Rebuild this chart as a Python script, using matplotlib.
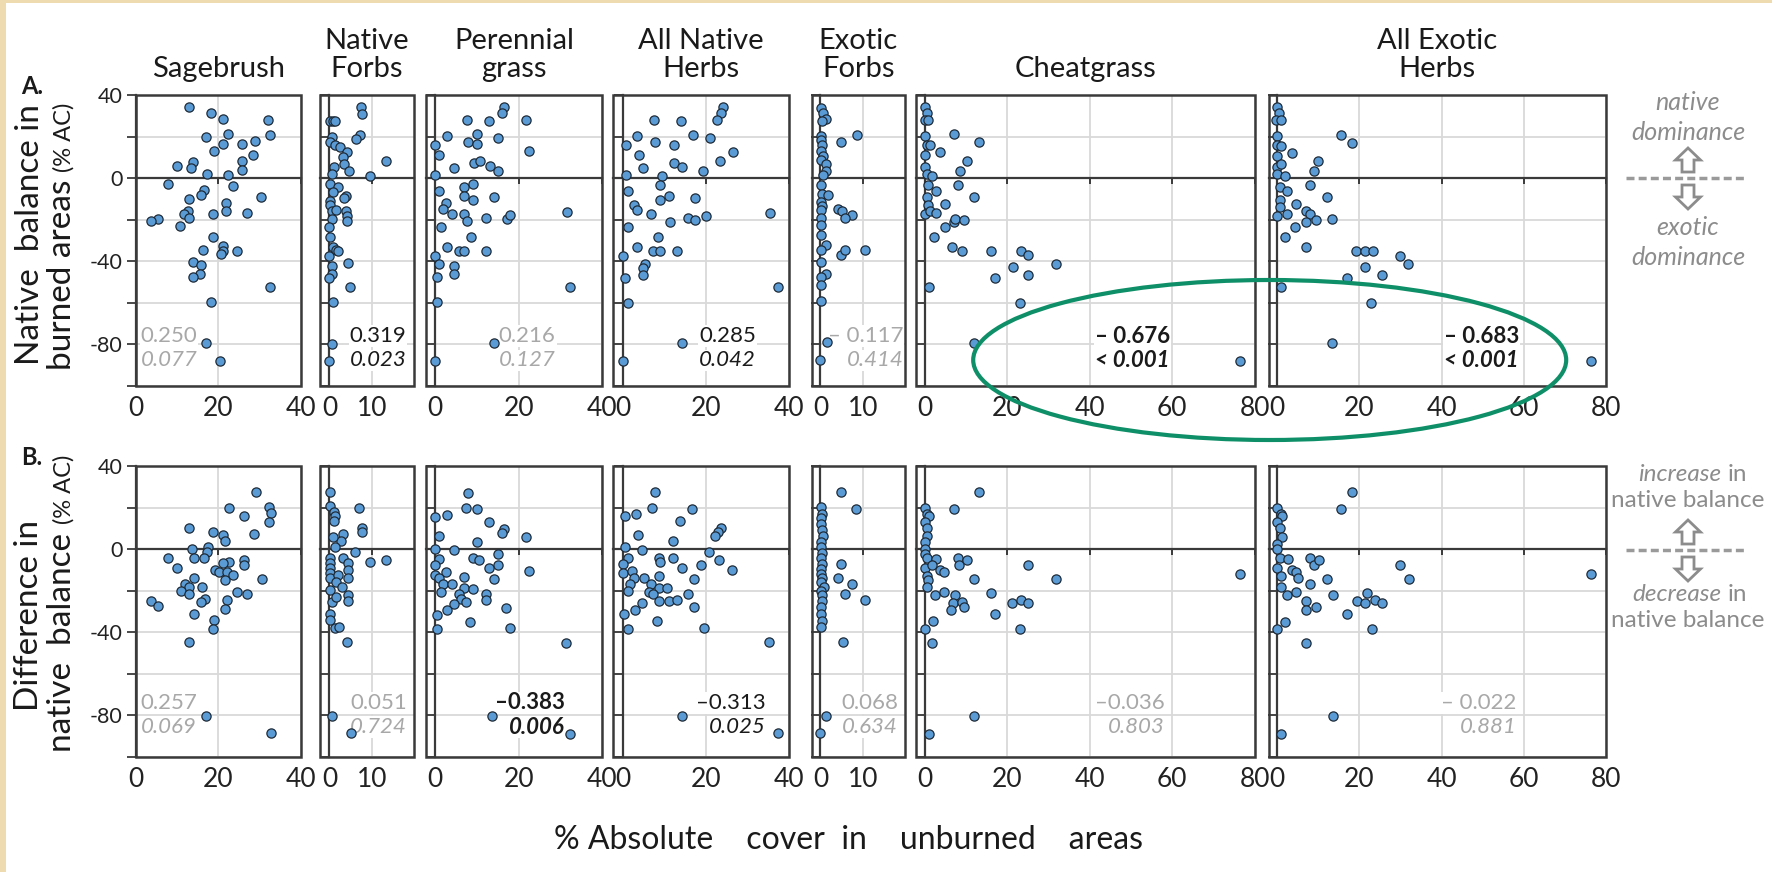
import matplotlib
matplotlib.use('Agg')
import matplotlib.pyplot as plt
from matplotlib.patches import Ellipse, Rectangle, Polygon

plt.rcParams['font.family'] = ['Lato', 'DejaVu Sans']

W, H = 1772, 872

# ---- native balance in burned areas (row A) ----
sage_burn_x = [12.9, 18.3, 21.0, 31.9, 32.4, 17.0, 22.4, 21.1, 19.0, 25.8, 28.8, 28.3, 25.8, 25.8, 9.9, 13.8, 13.3, 17.3, 22.4, 7.8, 23.4, 16.4, 15.9, 30.2, 12.9, 21.8, 21.8, 26.9, 18.8, 12.7, 11.6, 12.9, 10.7, 5.4, 3.6, 18.8, 21.1, 21.1, 20.7, 24.5, 16.2, 13.8, 15.9, 15.5, 13.8, 18.3, 32.4, 16.9, 20.4]
sage_burn_y = [34.0, 31.1, 28.4, 28.2, 20.6, 19.8, 21.0, 16.6, 13.1, 16.3, 17.7, 11.0, 8.2, 3.7, 5.8, 7.6, 5.0, 2.1, 1.3, -2.7, -3.9, -5.5, -7.9, -8.9, -10.0, -11.9, -15.6, -16.8, -17.3, -16.0, -17.3, -19.2, -22.9, -19.7, -20.8, -28.1, -32.6, -35.0, -36.6, -35.0, -34.7, -40.3, -41.9, -46.3, -47.6, -59.7, -52.3, -79.4, -88.2]

nforb_burn_x = [7.5, 7.7, 0.2, 0.9, 1.3, 0.5, 0.2, 7.2, 6.3, 13.3, 9.5, 1.4, 2.5, 4.2, 3.3, 3.5, 4.7, 1.1, 0.7, 0.2, 2.1, 0.9, 3.9, 3.5, 0.2, 0.2, 0.5, 1.6, 3.9, 4.2, 4.2, 0.7, 0.0, 0.2, 0.9, 1.6, 2.1, 0.0, 4.4, 0.7, 0.5, 0.0, 4.9, 0.9, 0.7, 0.0]
nforb_burn_y = [34.0, 30.8, 27.6, 27.6, 27.3, 19.8, 17.4, 20.6, 19.0, 8.1, 0.8, 15.8, 15.0, 12.6, 10.2, 6.9, 3.4, 5.3, 2.1, -2.7, -4.4, -6.8, -8.4, -9.5, -10.8, -12.7, -15.6, -15.3, -16.0, -18.0, -20.8, -19.7, -23.7, -28.5, -33.0, -34.7, -35.0, -37.4, -41.0, -42.3, -46.3, -47.9, -52.4, -59.7, -79.7, -88.2]

pgrass_burn_x = [16.4, 15.9, 7.5, 13.0, 21.8, 2.9, 10.1, 15.1, 7.8, 10.1, 0.0, 0.9, 22.6, 9.4, 10.7, 4.6, 13.2, 15.1, 0.0, 0.9, 9.0, 6.9, 6.9, 9.0, 14.0, 2.5, 1.8, 4.0, 6.9, 7.5, 12.1, 17.3, 18.0, 1.3, 8.5, 2.9, 5.6, 7.0, 12.1, 0.0, 0.9, 4.6, 4.6, 0.5, 0.5, 31.6, 32.3, 14.0, 0.0]
pgrass_burn_y = [34.0, 31.1, 28.2, 27.6, 27.9, 20.2, 21.0, 19.5, 17.4, 16.6, 15.8, 11.0, 12.9, 7.4, 8.2, 5.0, 5.8, 3.4, 1.3, -6.0, -2.7, -4.4, -8.4, -10.5, -8.9, -12.1, -14.8, -17.3, -17.3, -20.8, -19.4, -19.7, -17.6, -23.4, -28.2, -33.1, -35.0, -35.0, -35.0, -37.4, -41.1, -42.3, -46.3, -47.6, -59.7, -16.5, -52.4, -79.4, -88.2]

nherb_burn_x = [24.1, 23.6, 22.7, 7.6, 14.0, 3.5, 17.0, 21.0, 7.9, 12.4, 0.9, 26.5, 3.9, 12.4, 14.4, 23.5, 5.0, 19.5, 9.5, 0.9, 9.0, 1.4, 11.1, 9.0, 17.4, 2.7, 3.5, 6.8, 15.8, 17.4, 20.1, 11.4, 1.4, 8.5, 3.5, 7.4, 9.0, 13.0, 0.0, 5.5, 4.9, 4.9, 0.5, 1.4, 35.5, 37.4, 14.4, 0.0]
nherb_burn_y = [34.0, 31.1, 28.2, 27.9, 27.3, 20.2, 20.6, 19.4, 17.4, 16.1, 15.8, 12.6, 11.0, 7.3, 5.6, 8.1, 4.8, 3.2, 1.0, 1.6, -3.2, -6.0, -8.4, -10.5, -9.5, -12.7, -15.3, -17.3, -19.4, -20.0, -18.1, -21.0, -23.4, -28.5, -33.1, -35.0, -35.0, -35.0, -37.4, -41.1, -43.1, -46.6, -47.9, -60.0, -16.6, -52.4, -79.4, -88.2]

xforb_burn_x = [0.2, 0.5, 1.4, 0.3, 0.2, 0.2, 0.3, 0.2, 0.5, 0.2, 1.4, 1.4, 0.5, 0.2, 0.3, 1.8, 0.2, 0.3, 0.2, 0.2, 0.2, 0.2, 1.4, 0.2, 0.2, 1.4, 0.2, 0.2, 0.2, 1.6, 0.0, 4.9, 8.7, 4.1, 5.1, 7.5, 5.9, 4.9, 5.9, 10.5]
xforb_burn_y = [33.9, 31.2, 28.3, 27.5, 20.4, 18.3, 15.9, 13.0, 10.8, 8.7, 6.6, 3.4, 1.5, -3.4, -7.4, -8.2, -11.4, -13.5, -15.4, -19.4, -22.6, -27.4, -32.3, -34.7, -40.3, -45.9, -47.5, -51.6, -59.3, -78.9, -87.4, 17.5, 20.9, -14.8, -16.0, -17.6, -19.4, -37.1, -34.7, -34.7]

cheat_burn_x = [0.0, 0.4, 0.0, 0.8, 0.0, 0.4, 1.2, 0.0, 0.0, 0.4, 1.7, 0.8, 2.7, 0.4, 0.8, 0.0, 1.2, 2.7, 4.8, 2.2, 1.0, 7.1, 13.0, 3.6, 10.1, 8.6, 8.1, 12.0, 4.8, 7.0, 7.4, 9.5, 6.5, 9.0, 16.0, 23.4, 24.9, 31.7, 21.4, 24.9, 17.0, 23.0, 12.0, 76.3]
cheat_burn_y = [34.0, 31.1, 28.2, 27.9, 20.2, 16.0, 15.8, 11.0, 5.6, 2.0, 1.0, -3.5, -6.0, -9.0, -12.7, -17.3, -16.0, -16.8, -12.4, -28.5, -52.4, 21.0, 17.4, 12.6, 8.1, 3.4, -3.2, -9.2, -23.4, -21.0, -19.7, -20.0, -33.1, -35.0, -35.0, -35.0, -37.1, -41.1, -42.6, -46.6, -47.9, -60.0, -79.4, -88.2]

xherb_burn_x = [0.0, 0.4, -0.2, 0.8, 0.0, 0.0, 0.8, 0.0, 0.0, 0.8, 0.0, 2.0, 0.6, 2.5, 0.6, 0.6, 0.0, 2.5, 2.0, 1.0, 15.5, 18.1, 3.7, 9.9, 8.9, 8.0, 12.0, 4.6, 7.0, 8.0, 7.0, 9.4, 4.4, 13.3, 7.0, 19.2, 21.4, 23.4, 29.8, 31.8, 21.4, 25.5, 16.9, 22.9, 13.3, 76.3]
xherb_burn_y = [34.0, 31.1, 28.2, 28.2, 20.2, 15.8, 15.5, 10.6, 5.3, 6.6, 2.1, 0.8, -4.4, -6.0, -10.5, -14.0, -18.0, -17.3, -28.5, -52.4, 20.6, 17.1, 12.3, 8.1, 3.2, -3.2, -9.2, -12.4, -16.0, -17.3, -21.0, -20.0, -23.4, -19.7, -33.1, -35.0, -35.0, -35.0, -37.4, -41.1, -42.6, -46.6, -47.9, -60.0, -79.4, -88.2]

# ---- difference in native balance (row B) ----
sage_diff_x = [29.0, 32.1, 32.6, 32.1, 22.6, 26.1, 13.0, 18.8, 21.1, 21.6, 28.6, 13.5, 17.5, 17.3, 16.4, 14.0, 7.8, 10.0, 22.6, 26.1, 26.1, 21.1, 19.2, 20.1, 22.1, 23.5, 21.6, 14.0, 11.9, 13.0, 11.0, 13.0, 16.1, 24.5, 27.0, 30.5, 16.7, 15.7, 22.1, 21.5, 14.0, 19.0, 18.8, 3.8, 5.4, 13.0, 17.0, 32.6]
sage_diff_y = [27.3, 20.4, 17.2, 13.2, 19.6, 16.1, 10.3, 8.4, 6.8, 3.9, 7.1, 0.0, 1.1, -1.3, -4.5, -4.5, -4.2, -9.0, -6.1, -5.0, -7.4, -6.9, -9.8, -10.9, -10.9, -12.5, -15.0, -14.1, -16.6, -18.2, -20.3, -21.4, -18.2, -20.6, -21.7, -14.5, -23.8, -25.4, -24.6, -28.6, -31.0, -34.2, -38.3, -25.1, -27.3, -44.7, -80.1, -88.6]

nforb_diff_x = [0.2, 0.2, 1.1, 1.3, 1.1, 7.0, 7.7, 7.7, 3.3, 2.7, 0.9, 1.3, 6.1, 9.5, 13.3, 3.3, 0.2, 0.2, 0.2, 0.2, 0.2, 4.4, 4.4, 2.1, 4.4, 1.6, 3.0, 4.4, 4.4, 0.2, 0.7, 1.6, 0.2, 0.2, 1.4, 2.3, 4.2, 0.7, 5.1]
nforb_diff_y = [27.3, 20.9, 18.0, 16.1, 13.5, 19.6, 10.3, 8.4, 7.2, 3.9, 5.9, 1.1, -1.3, -6.4, -5.0, -4.5, -4.2, -6.9, -9.3, -11.7, -14.1, -6.9, -9.8, -12.5, -14.1, -15.8, -18.2, -21.9, -25.1, -19.8, -25.4, -23.0, -31.0, -34.2, -37.9, -37.5, -44.7, -80.1, -88.6]

pgrass_diff_x = [7.8, 7.3, 10.1, 2.9, 0.0, 13.0, 16.4, 15.9, 21.8, 0.9, 10.1, 0.0, 4.6, 15.0, 0.9, 9.0, 10.4, 0.0, 15.0, 13.0, 14.0, 22.6, 0.0, 2.5, 0.9, 1.8, 4.0, 1.3, 6.9, 6.9, 9.0, 12.1, 12.1, 5.6, 6.1, 7.3, 4.4, 2.9, 0.4, 8.3, 16.9, 18.0, 0.4, 31.5, 13.7, 32.3]
pgrass_diff_y = [26.8, 19.9, 19.1, 16.4, 15.6, 13.2, 9.6, 7.6, 5.9, 6.3, 3.5, 0.3, -0.5, -2.1, -4.8, -4.5, -5.3, -7.4, -7.4, -9.3, -14.5, -10.5, -12.2, -10.9, -14.1, -16.6, -17.0, -20.6, -13.3, -18.5, -19.0, -21.7, -24.6, -21.4, -23.8, -25.4, -26.2, -29.4, -31.5, -35.0, -28.1, -37.9, -38.3, -45.0, -80.4, -88.9]

nherb_diff_x = [7.9, 7.2, 16.8, 0.7, 3.3, 13.8, 23.8, 23.1, 22.2, 3.8, 12.2, 0.7, 4.6, 20.8, 1.2, 8.9, 9.1, 12.2, 0.0, 0.0, 23.3, 19.0, 14.3, 26.3, 2.2, 2.7, 5.2, 8.9, 17.1, 1.7, 6.9, 8.9, 10.8, 1.2, 6.4, 7.4, 15.7, 8.9, 11.2, 13.0, 4.6, 17.1, 0.3, 3.1, 8.2, 1.2, 19.6, 35.2, 14.3, 37.4]
nherb_diff_y = [27.3, 19.9, 19.3, 15.9, 16.9, 13.5, 10.3, 8.4, 6.3, 6.8, 3.9, 1.1, -0.5, -1.6, -4.5, -4.5, -6.4, -4.5, -7.2, -11.7, -5.3, -7.4, -9.3, -10.1, -10.6, -14.1, -14.1, -12.9, -14.5, -16.6, -16.6, -18.5, -18.5, -20.3, -20.6, -21.4, -21.7, -24.9, -25.1, -24.3, -25.7, -27.8, -31.0, -29.1, -34.7, -38.3, -37.8, -44.7, -80.1, -88.6]

xforb_diff_x = [0.2, 0.4, 0.2, 0.2, 0.3, 0.5, 0.2, 0.2, 0.4, 0.2, 0.4, 0.2, 0.2, 0.3, 0.2, 0.9, 0.2, 0.4, 0.3, 0.2, 0.2, 0.3, 0.2, 4.9, 8.3, 4.9, 4.2, 7.4, 5.7, 10.4, 5.4, 1.4, 0.0]
xforb_diff_y = [20.3, 17.0, 15.0, 12.0, 9.0, 6.3, 3.5, 1.0, -2.0, -4.5, -7.0, -9.5, -12.0, -14.0, -16.0, -18.2, -20.0, -22.0, -25.0, -28.0, -31.0, -34.5, -37.5, 27.3, 19.3, -7.2, -13.8, -16.6, -21.4, -24.6, -44.7, -80.1, -88.6]

cheat_diff_x = [0.0, 0.4, 1.0, 0.0, 0.4, 0.6, 0.0, 0.0, 0.0, 0.4, 0.0, 0.4, 0.8, 0.4, 2.7, 1.7, 0.0, 2.0, 1.7, 1.0, 13.0, 7.1, 7.9, 8.2, 10.1, 3.6, 4.6, 12.0, 2.5, 4.6, 7.4, 6.9, 6.3, 9.1, 9.5, 16.0, 24.9, 31.7, 21.2, 23.4, 24.9, 17.0, 23.0, 12.0, 76.3]
cheat_diff_y = [19.9, 16.7, 15.9, 13.2, 10.0, 6.4, 3.5, 0.3, -2.1, -4.5, -9.3, -12.9, -15.0, -18.2, -4.8, -7.4, -38.3, -34.7, -45.0, -88.9, 27.3, 19.1, -4.5, -7.4, -5.3, -10.1, -10.9, -14.6, -21.9, -20.6, -21.9, -25.7, -29.4, -25.4, -27.8, -21.1, -7.4, -14.5, -25.7, -24.6, -25.7, -31.4, -38.6, -80.4, -12.1]

xherb_diff_x = [0.0, 0.8, 1.2, 0.0, 0.6, 1.1, 0.0, 0.0, 0.6, 0.0, 0.8, 0.8, 2.7, 2.5, 0.0, 2.0, 1.0, 18.1, 15.5, 8.0, 8.9, 10.1, 3.7, 4.6, 5.1, 12.1, 8.0, 4.6, 7.0, 7.0, 9.4, 13.5, 21.9, 19.5, 21.4, 23.7, 25.6, 17.1, 23.1, 29.8, 32.0, 7.0, 13.5, 76.4]
xherb_diff_y = [19.9, 16.7, 15.9, 13.2, 10.0, 5.9, 2.7, 0.3, -4.5, -9.0, -12.9, -18.2, -4.8, -21.9, -38.3, -35.0, -88.9, 27.3, 19.1, -4.5, -7.4, -5.3, -10.1, -10.9, -14.1, -14.6, -16.9, -20.6, -25.1, -29.4, -27.8, -21.9, -21.1, -25.1, -25.9, -24.6, -25.9, -31.4, -38.6, -7.4, -14.6, -45.0, -80.4, -12.1]

titles = ['Sagebrush', 'Native\nForbs', 'Perennial\ngrass', 'All Native\nHerbs',
          'Exotic\nForbs', 'Cheatgrass', 'All Exotic\nHerbs']
xticks = [[0, 20, 40], [0, 10], [0, 20, 40], [0, 20, 40], [0, 10],
          [0, 20, 40, 60, 80], [0, 20, 40, 60, 80]]

# correlation coefficient and p-value printed in each panel
r_burn = ['0.250', '0.319', '0.216', '0.285', '\u2013 0.117', '\u2013 0.676', '\u2013 0.683']
p_burn = ['0.077', '0.023', '0.127', '0.042', '0.414', '< 0.001', '< 0.001']
r_diff = ['0.257', '0.051', '\u20130.383', '\u20130.313', '0.068', '\u20130.036', '\u2013 0.022']
p_diff = ['0.069', '0.724', '0.006', '0.025', '0.634', '0.803', '0.881']
sig_burn = ['ns', 'sig', 'ns', 'sig', 'ns', 'bold', 'bold']
sig_diff = ['ns', 'ns', 'bold', 'sig', 'ns', 'ns', 'ns']

burn_x = [sage_burn_x, nforb_burn_x, pgrass_burn_x, nherb_burn_x, xforb_burn_x, cheat_burn_x, xherb_burn_x]
burn_y = [sage_burn_y, nforb_burn_y, pgrass_burn_y, nherb_burn_y, xforb_burn_y, cheat_burn_y, xherb_burn_y]
diff_x = [sage_diff_x, nforb_diff_x, pgrass_diff_x, nherb_diff_x, xforb_diff_x, cheat_diff_x, xherb_diff_x]
diff_y = [sage_diff_y, nforb_diff_y, pgrass_diff_y, nherb_diff_y, xforb_diff_y, cheat_diff_y, xherb_diff_y]

# panel geometry (pixels)
box_left = [135.6, 319.5, 426.2, 613.0, 811.5, 916.3, 1268.6]
box_right = [301.3, 414.4, 601.8, 788.6, 905.3, 1254.8, 1605.9]
xlims = [(0, 40), (-2.35, 20.1), (-2.2, 40), (-2.3, 40), (-2.1, 20), (-2.1, 80), (-2.1, 80)]
row_top = [95, 466]
row_bot = [386, 757]
# stat label anchor (x in data units, alignment) and line heights per row
stat_x = [[1.2, 18.2, 28.9, 32.1, 19.6, 59.4, 58.8],
          [1.2, 18.3, 31.1, 34.5, 18.3, 58.1, 58.2]]
stat_y = [(-76, -87.7), (-74, -85.6)]

AXC = '#3a3a3a'
DOT = '#5b9bd5'

fig = plt.figure(figsize=(W / 100, H / 100), dpi=100)
fig.patch.set_facecolor('white')


def draw_panel(ax, k, row, xs, ys, r_txt, p_txt, sig):
    ax.set_xlim(*xlims[k])
    ax.set_ylim(-100, 40)
    ax.set_xticks(xticks[k])
    ax.set_yticks(range(-100, 41, 20))
    ax.set_yticklabels(['' if v % 40 else str(v) for v in range(-100, 41, 20)])
    ax.grid(True, color='#d9d9d9', lw=1.3)
    ax.set_axisbelow(True)
    ax.spines['top'].set_visible(False)
    ax.spines['right'].set_visible(False)
    ax.spines['left'].set_position(('data', 0))
    ax.spines['bottom'].set_position(('data', 0))
    for s in ('left', 'bottom'):
        ax.spines[s].set_color(AXC)
        ax.spines[s].set_linewidth(1.6)
    ax.tick_params(axis='x', direction='out', length=4.5, width=1.4, color=AXC,
                   labelbottom=False)
    ax.tick_params(axis='y', direction='out', length=6.3, width=1.3, color=AXC,
                   labelleft=(k == 0), labelsize=15.5, pad=3, labelcolor='#222222')
    ax.add_patch(Rectangle((0, 0), 1, 1, transform=ax.transAxes, fill=False,
                           ec=AXC, lw=1.8, clip_on=False, zorder=2.6))
    sec = ax.secondary_xaxis('bottom')
    sec.set_xticks(xticks[k], [str(t) for t in xticks[k]])
    sec.tick_params(length=0, pad=7, labelsize=19, labelcolor='#222222')
    sec.spines['bottom'].set_visible(False)

    ax.scatter(xs, ys, s=44, c=DOT, edgecolors='#1e2b38', linewidths=0.9,
               zorder=5, clip_on=False)

    color = '#a8a8a8' if sig == 'ns' else '#1a1a1a'
    weight = 'bold' if sig == 'bold' else 'normal'
    ha = 'left' if k == 0 else 'right'
    box = dict(fc='white', ec='none', pad=0.6)
    ax.text(stat_x[row][k], stat_y[row][0], r_txt, ha=ha, va='center', fontsize=16,
            color=color, fontweight=weight, bbox=box, zorder=4)
    ax.text(stat_x[row][k], stat_y[row][1], p_txt, ha=ha, va='center', fontsize=16,
            color=color, fontweight=weight, style='italic', bbox=box, zorder=4)


for row in range(2):
    for k in range(7):
        l, r = box_left[k], box_right[k]
        ax = fig.add_axes([l / W, 1 - row_bot[row] / H, (r - l) / W,
                           (row_bot[row] - row_top[row]) / H])
        if row == 0:
            draw_panel(ax, k, 0, burn_x[k], burn_y[k], r_burn[k], p_burn[k], sig_burn[k])
            ax.set_title(titles[k], fontsize=21, pad=13, linespacing=1.1, color='#1a1a1a')
        else:
            draw_panel(ax, k, 1, diff_x[k], diff_y[k], r_diff[k], p_diff[k], sig_diff[k])

# overlay in pixel coordinates for labels and annotations
ov = fig.add_axes([0, 0, 1, 1], zorder=20)
ov.set_xlim(0, W)
ov.set_ylim(H, 0)
ov.axis('off')

ov.add_patch(Rectangle((0, 0), W, 3.5, color='#eedcb0', lw=0))
ov.add_patch(Rectangle((0, 0), 6, H, color='#eedcb0', lw=0))

ov.text(32, 87, 'A.', fontsize=17, fontweight='bold', ha='center', va='center', color='#1a1a1a')
ov.text(32, 457, 'B.', fontsize=17, fontweight='bold', ha='center', va='center', color='#1a1a1a')

ylab = dict(rotation=90, rotation_mode='anchor', va='baseline', color='#1a1a1a')
ov.text(39.5, 234.5, 'Native  balance in', ha='center', fontsize=24, **ylab)
ov.text(71, 370, 'burned areas', ha='left', fontsize=24, **ylab)
ov.text(71, 103, '(% AC)', ha='right', fontsize=17, **ylab)
ov.text(38, 615, 'Difference in', ha='center', fontsize=24, **ylab)
nb = ov.text(71, 752, 'native  balance', ha='left', fontsize=24, **ylab)
# put the unit right after the rotated words
renderer = fig.canvas.get_renderer()
nb_top = H - nb.get_window_extent(renderer).y1
ov.text(71, nb_top - 9, '(% AC)', ha='left', fontsize=17, **ylab)

ov.text(849, 840, '% Absolute    cover  in    unburned    areas', ha='center', va='center',
        fontsize=23, color='#1a1a1a')

# side legend: direction of change
GR = '#8c8c8c'
cx = 1688
for t, yy in (('native', 103), ('dominance', 133), ('exotic', 227), ('dominance', 257)):
    ov.text(cx, yy, t, ha='center', va='center', fontsize=18, style='italic', color=GR)
for word, yy in (('increase', 474), ('decrease', 594)):
    ov.text(1721, yy, word, ha='right', va='center', fontsize=17.5, style='italic', color=GR)
    ov.text(1728, yy, 'in', ha='left', va='center', fontsize=17.5, color=GR)
for yy in (500, 620):
    ov.text(cx, yy, 'native balance', ha='center', va='center', fontsize=17.5, color=GR)


def block_arrow(yc, up):
    # hollow block arrow; y grows downward on this overlay
    s = 1 if up else -1
    hw, sw, h, hh = 12.5, 6, 12, 12
    neck = yc - s * (h - hh)
    pts = [(cx, yc - s * h), (cx + hw, neck), (cx + sw, neck), (cx + sw, yc + s * h),
           (cx - sw, yc + s * h), (cx - sw, neck), (cx - hw, neck)]
    ov.add_patch(Polygon(pts, closed=True, fc='white', ec=GR, lw=2))


for up_y, zero_y, down_y in ((160, 178, 197), (532, 549.7, 569)):
    block_arrow(up_y, True)
    block_arrow(down_y, False)
    ov.plot([1626, 1746], [zero_y, zero_y], color='#9a9a9a', lw=2.5,
            linestyle=(0, (2.3, 1.2)))

ov.add_patch(Ellipse((1269.7, 360), 593, 160, fill=False, ec='#0f8f67', lw=3))

fig.savefig('out.png', dpi=100)
